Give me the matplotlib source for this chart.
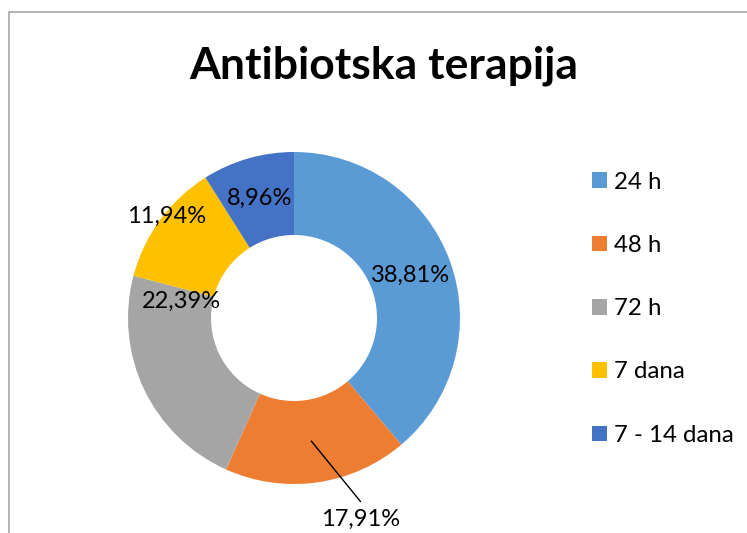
import numpy as np
import matplotlib.pyplot as plt
from matplotlib.lines import Line2D

# values from the chart
categories = ["24 h", "48 h", "72 h", "7 dana", "7 - 14 dana"]
shares = [38.81, 17.91, 22.39, 11.94, 8.96]
label_texts = ["38,81%", "17,91%", "22,39%", "11,94%", "8,96%"]
colors = ["#5B9BD5", "#ED7D31", "#A5A5A5", "#FFC000", "#4472C4"]

plt.rcParams["font.family"] = ["Lato", "DejaVu Sans"]

W, H = 747, 533
fig = plt.figure(figsize=(W / 100, H / 100), dpi=100)

# chart-area border (cut off on the right and bottom like in the screenshot)
fig.add_artist(Line2D([9 / W, 9 / W, 1.2], [-0.2, 1 - 12 / H, 1 - 12 / H],
                      transform=fig.transFigure, color="#A6A6A6", lw=1.2))

fig.text(384 / W, 1 - 66 / H, "Antibiotska terapija", ha="center", va="center",
         fontsize=32, fontweight="bold", color="black")

# donut: centre (294, 318) px, outer radius 166 px
cx, cy, r = 294, 318, 166
ax = fig.add_axes([(cx - r) / W, (H - cy - r) / H, 2 * r / W, 2 * r / H])
wedges, _ = ax.pie(shares, colors=colors, startangle=90, counterclock=False,
                   radius=1, wedgeprops=dict(width=0.5, edgecolor="none"))
ax.set_xlim(-1, 1)
ax.set_ylim(-1, 1)
ax.set_aspect("equal")
ax.axis("off")

# default label spots in the middle of the ring, some moved by hand like in Excel
mid_r = 0.75
positions = []
for w in wedges:
    ang = np.deg2rad((w.theta1 + w.theta2) / 2)
    positions.append([mid_r * np.cos(ang), mid_r * np.sin(ang)])
positions[1] = [0.40, -1.215]
positions[2] = [-0.68, 0.10]
positions[3] = [-0.765, 0.61]

for i, txt in enumerate(label_texts):
    ax.text(positions[i][0], positions[i][1], txt, ha="center", va="center",
            fontsize=17, color="black", clip_on=False)

# leader line for the moved 48 h label
w = wedges[1]
ang = np.deg2rad((w.theta1 + w.theta2) / 2)
ax.plot([mid_r * np.cos(ang), positions[1][0]],
        [mid_r * np.sin(ang), positions[1][1] + 0.11],
        color="black", lw=1, clip_on=False)

fig.legend(wedges, categories, loc="upper left",
           bbox_to_anchor=(582 / W, 1 - 162 / H), frameon=False,
           fontsize=17.3, handlelength=0.62, handleheight=0.62,
           handletextpad=0.3, labelspacing=1.76, borderaxespad=0)

fig.savefig("out.png", dpi=100)
